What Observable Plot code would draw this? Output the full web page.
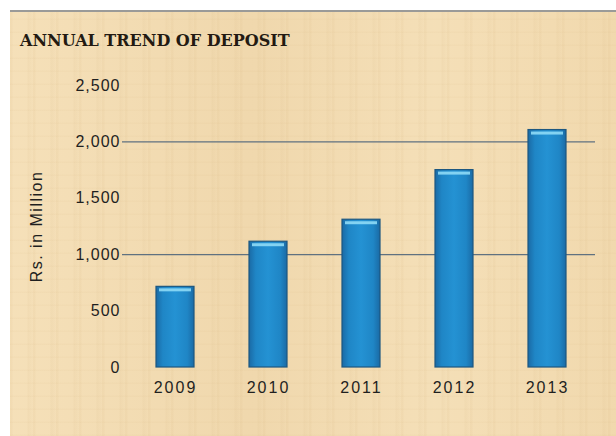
<!DOCTYPE html>
<html>
<head>
<meta charset="utf-8">
<script src="https://cdn.jsdelivr.net/npm/d3@7"></script>
<script src="https://cdn.jsdelivr.net/npm/@observablehq/plot@0.6"></script>
<style>
  html, body { margin: 0; padding: 0; background: #ffffff; }
  #wrap { position: relative; width: 616px; height: 436px; overflow: hidden; }
  #bg {
    position: absolute; left: 10px; top: 10px; right: 0; bottom: 0;
    border-top: 2px solid #9a9a98;
    background-color: #f1dab0;
    background-image:
      repeating-linear-gradient(90deg, rgba(200,160,100,0.07) 0px, rgba(200,160,100,0.07) 2px, rgba(255,240,210,0.0) 3px, rgba(255,240,210,0.0) 17px, rgba(180,140,80,0.05) 18px, rgba(255,240,210,0.0) 23px),
      repeating-linear-gradient(0deg, rgba(200,160,100,0.05) 0px, rgba(200,160,100,0.05) 1px, rgba(255,240,210,0.0) 2px, rgba(255,240,210,0.0) 13px),
      linear-gradient(90deg, rgba(255,238,205,0.30), rgba(232,200,150,0.12) 40%, rgba(255,238,205,0.25) 70%, rgba(240,210,160,0.15));
  }
  #title {
    position: absolute; left: 20px; top: 31px;
    font-family: "DejaVu Serif", serif; font-weight: bold; font-size: 16px;
    letter-spacing: 0px; color: #231a12; white-space: nowrap;
  }
  #chart { position: absolute; left: 0; top: 55px; }
</style>
</head>
<body>
<div id="wrap">
  <div id="bg"></div>
  <div id="title">ANNUAL TREND OF DEPOSIT</div>
  <div id="chart"></div>
</div>
<script>
const years = ["2009", "2010", "2011", "2012", "2013"];
const deposits = [715, 1115, 1310, 1750, 2105];
const yTicks = [0, 500, 1000, 1500, 2000, 2500];
const gridValues = [1000, 2000];
const yLabel = "Rs. in Million";

const data = years.map((year, i) => ({year, value: deposits[i]}));

const chart = Plot.plot({
  width: 616,
  height: 381,
  marginLeft: 128,
  marginRight: 21,
  marginTop: 30,
  marginBottom: 69,
  style: {background: "transparent", fontFamily: "Liberation Sans, sans-serif", fontSize: "15px", color: "#1f1f1f", overflow: "visible"},
  x: {domain: years, paddingInner: 0.59, paddingOuter: 0.295},
  y: {domain: [0, 2500]},
  marks: [
    Plot.ruleY(gridValues, {stroke: "#5f7180", strokeWidth: 1.2, insetLeft: -6}),
    Plot.barY(data, {x: "year", y: "value", fill: "url(#barGrad)", stroke: "#1d5780", strokeWidth: 1.2}),
    Plot.tickY(data, {x: "year", y: "value", stroke: "#8edaf6", strokeWidth: 3, dy: 3, inset: 3, strokeOpacity: 0.9}),
    Plot.axisY({ticks: yTicks, tickSize: 0, tickPadding: 8, tickFormat: d3.format(","), label: yLabel, labelAnchor: "center", labelOffset: 98, labelArrow: "none", fontSize: 16}),
    Plot.axisX({tickSize: 0, tickPadding: 14, label: null, fontSize: 16})
  ]
});

const svg = d3.select(chart);
svg.selectAll("[aria-label='x-axis tick label'] text").style("letter-spacing", "2px");
svg.selectAll("[aria-label='y-axis tick label'] text").style("letter-spacing", "1px");
svg.selectAll("[aria-label='y-axis label'] text").style("letter-spacing", "1.5px");
const defs = svg.insert("defs", ":first-child");
const g = defs.append("linearGradient").attr("id", "barGrad").attr("x1", "0").attr("x2", "1").attr("y1", "0").attr("y2", "0");
g.append("stop").attr("offset", "0%").attr("stop-color", "#1a6aa5");
g.append("stop").attr("offset", "18%").attr("stop-color", "#1f86c6");
g.append("stop").attr("offset", "50%").attr("stop-color", "#2492d3");
g.append("stop").attr("offset", "82%").attr("stop-color", "#1f86c6");
g.append("stop").attr("offset", "100%").attr("stop-color", "#1a6aa5");

document.getElementById("chart").appendChild(chart);
</script>
</body>
</html>
